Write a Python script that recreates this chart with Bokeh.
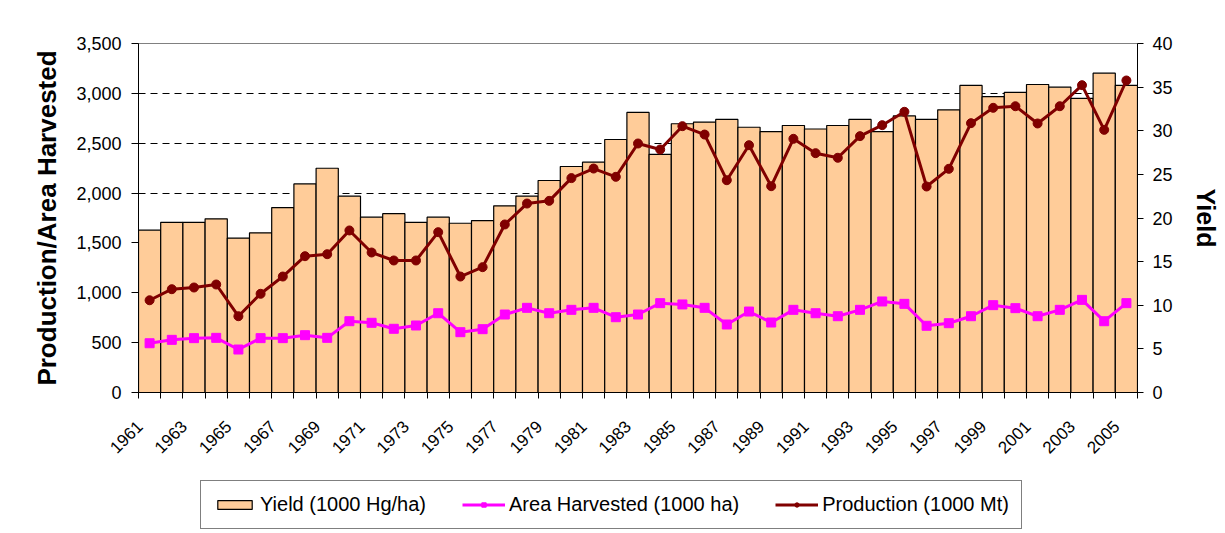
import math
from bokeh.plotting import figure
from bokeh.layouts import column
from bokeh.models import (Range1d, LinearAxis, FixedTicker, NumeralTickFormatter,
                          Legend, LegendItem, BoxAnnotation)
from bokeh.embed import file_html
from bokeh.resources import INLINE

years = list(range(1961, 2006))
yield_vals = [18.6, 19.5, 19.5, 19.9, 17.7, 18.3, 21.2, 23.9, 25.7, 22.5,
              20.1, 20.5, 19.5, 20.1, 19.4, 19.7, 21.4, 22.5, 24.3, 25.9,
              26.4, 29.0, 32.1, 27.3, 30.8, 31.0, 31.3, 30.4, 29.9, 30.6,
              30.2, 30.6, 31.3, 29.9, 31.7, 31.3, 32.4, 35.2, 33.9, 34.4,
              35.3, 35.0, 33.7, 36.6, 35.2]
area_vals = [494, 528, 545, 548, 431, 545, 545, 575, 548, 715,
             699, 639, 672, 795, 605, 635, 782, 849, 795, 829,
             849, 755, 782, 896, 883, 849, 682, 812, 702, 829,
             795, 765, 829, 913, 889, 669, 695, 765, 876, 846,
             765, 829, 929, 715, 896]
prod_vals = [925, 1036, 1053, 1083, 765, 990, 1163, 1367, 1387, 1625,
             1404, 1324, 1324, 1608, 1163, 1257, 1685, 1895, 1922, 2150,
             2246, 2163, 2497, 2437, 2671, 2587, 2129, 2480, 2069, 2544,
             2400, 2354, 2571, 2681, 2815, 2066, 2243, 2701, 2855, 2871,
             2698, 2871, 3082, 2634, 3129]
left_ticks = [0, 500, 1000, 1500, 2000, 2500, 3000, 3500]
right_ticks = [0, 5, 10, 15, 20, 25, 30, 35, 40]
label_years = years[::2]
series_names = ["Yield (1000 Hg/ha)", "Area Harvested (1000 ha)", "Production (1000 Mt)"]

FONT = "Liberation Sans"
BAR_FILL = "#FFCC99"
AREA_COL = "#FF00FF"
PROD_COL = "#800000"

p = figure(frame_width=999, frame_height=349,
           min_border_left=138, min_border_right=80,
           min_border_top=43, min_border_bottom=80,
           x_range=Range1d(years[0] - 0.5, years[-1] + 0.5),
           y_range=Range1d(left_ticks[0], left_ticks[-1]),
           output_backend="svg", toolbar_location=None,
           background_fill_color="white", border_fill_color="white")
p.extra_y_ranges = {"yield": Range1d(right_ticks[0], right_ticks[-1])}

p.outline_line_color = "#808080"
p.outline_line_width = 1

# grid
p.xgrid.visible = False
p.ygrid.ticker = FixedTicker(ticks=left_ticks[1:-1])
p.ygrid.grid_line_color = "black"
p.ygrid.grid_line_dash = "7 5"
p.ygrid.grid_line_width = 1

# bars (yield, right axis)
p.vbar(x=years, top=yield_vals, width=1.0, bottom=0,
       y_range_name="yield", fill_color=BAR_FILL,
       line_color="black", line_width=1.2)

# area harvested
p.line(years, area_vals, line_color=AREA_COL, line_width=3)
p.scatter(years, area_vals, marker="square", size=9,
          fill_color=AREA_COL, line_color=AREA_COL)

# production
p.line(years, prod_vals, line_color=PROD_COL, line_width=3)
p.scatter(years, prod_vals, marker="circle", size=9,
          fill_color=PROD_COL, line_color=PROD_COL)

# x axis: labels anchored a little left of category centre (as in the original)
xa = p.xaxis[0]
boundaries = [y - 0.5 for y in years] + [years[-1] + 0.5]
label_pos = [y - 0.45 for y in label_years]
xa.ticker = FixedTicker(ticks=label_pos, minor_ticks=boundaries)
xa.major_label_overrides = {pos: str(y) for pos, y in zip(label_pos, label_years)}
xa.major_tick_line_color = None
xa.major_tick_out = 0
xa.major_tick_in = 0
xa.minor_tick_line_color = "black"
xa.minor_tick_out = 6
xa.minor_tick_in = 0
xa.axis_line_color = "black"
xa.major_label_orientation = math.pi / 4
xa.major_label_text_font = FONT
xa.major_label_text_font_size = "17px"
xa.major_label_text_color = "black"
xa.major_label_standoff = 25

# left axis
ya = p.yaxis[0]
ya.ticker = FixedTicker(ticks=left_ticks)
ya.formatter = NumeralTickFormatter(format="0,0")
ya.major_tick_out = 7
ya.major_tick_in = 0
ya.minor_tick_line_color = None
ya.axis_line_color = "black"
ya.major_label_text_font = FONT
ya.major_label_text_font_size = "18px"
ya.major_label_text_color = "black"
ya.major_label_standoff = 10
ya.axis_label = "Production/Area Harvested"
ya.axis_label_text_font = FONT
ya.axis_label_text_font_size = "26px"
ya.axis_label_text_font_style = "bold"
ya.axis_label_text_color = "black"
ya.axis_label_standoff = 11

# right axis
ra = LinearAxis(y_range_name="yield", ticker=FixedTicker(ticks=right_ticks))
ra.major_tick_out = 6
ra.major_tick_in = 0
ra.minor_tick_line_color = None
ra.axis_line_color = "black"
ra.major_label_text_font = FONT
ra.major_label_text_font_size = "18px"
ra.major_label_text_color = "black"
ra.major_label_standoff = 9
ra.axis_label = "Yield"
ra.axis_label_text_font = FONT
ra.axis_label_text_font_size = "25px"
ra.axis_label_text_font_style = "bold"
ra.axis_label_text_color = "black"
ra.axis_label_standoff = 16
p.add_layout(ra, "right")

# legend strip (own small figure so that the legend is not clipped by the frame);
# its renderers only provide the legend swatches and are covered by a white box
lg = figure(width=1217, height=61, min_border=0,
            x_range=Range1d(years[0] - 10, years[-1] + 10),
            y_range=Range1d(left_ticks[0] - 2000, left_ticks[-1] + 2000),
            x_axis_type=None, y_axis_type=None,
            output_backend="svg", toolbar_location=None,
            background_fill_color="white", border_fill_color="white")
lg.extra_y_ranges = {"yield": Range1d(right_ticks[0] - 20, right_ticks[-1] + 20)}
lg.outline_line_color = None
lg.grid.visible = False
r_bar = lg.vbar(x=years, top=yield_vals, width=1.0, y_range_name="yield",
                fill_color=BAR_FILL, line_color="black", line_width=1.2)
r_aline = lg.line(x=years, y=area_vals, line_color=AREA_COL, line_width=3)
r_apts = lg.scatter(x=years, y=area_vals, marker="square", size=9,
                    fill_color=AREA_COL, line_color=AREA_COL)
r_pline = lg.line(x=years, y=prod_vals, line_color=PROD_COL, line_width=3)
r_ppts = lg.scatter(x=years, y=prod_vals, marker="circle", size=9,
                    fill_color=PROD_COL, line_color=PROD_COL)
lg.add_layout(BoxAnnotation(fill_color="white", fill_alpha=1.0,
                            line_color=None, line_alpha=0))

legend = Legend(items=[
    LegendItem(label=series_names[0], renderers=[r_bar]),
    LegendItem(label=series_names[1], renderers=[r_aline, r_apts]),
    LegendItem(label=series_names[2], renderers=[r_pline, r_ppts]),
], orientation="horizontal", location=(62, 4))
legend.label_text_font = FONT
legend.label_text_font_size = "20px"
legend.label_text_color = "black"
legend.glyph_width = 43
legend.glyph_height = 11
legend.label_standoff = 4
legend.spacing = 36
legend.padding = 12
legend.margin = 0
legend.border_line_color = "black"
legend.border_line_width = 1
legend.background_fill_color = "white"
legend.background_fill_alpha = 1.0
lg.add_layout(legend, "center")

layout = column(p, lg, spacing=0)
open("out.html", "w").write(file_html(layout, INLINE))
